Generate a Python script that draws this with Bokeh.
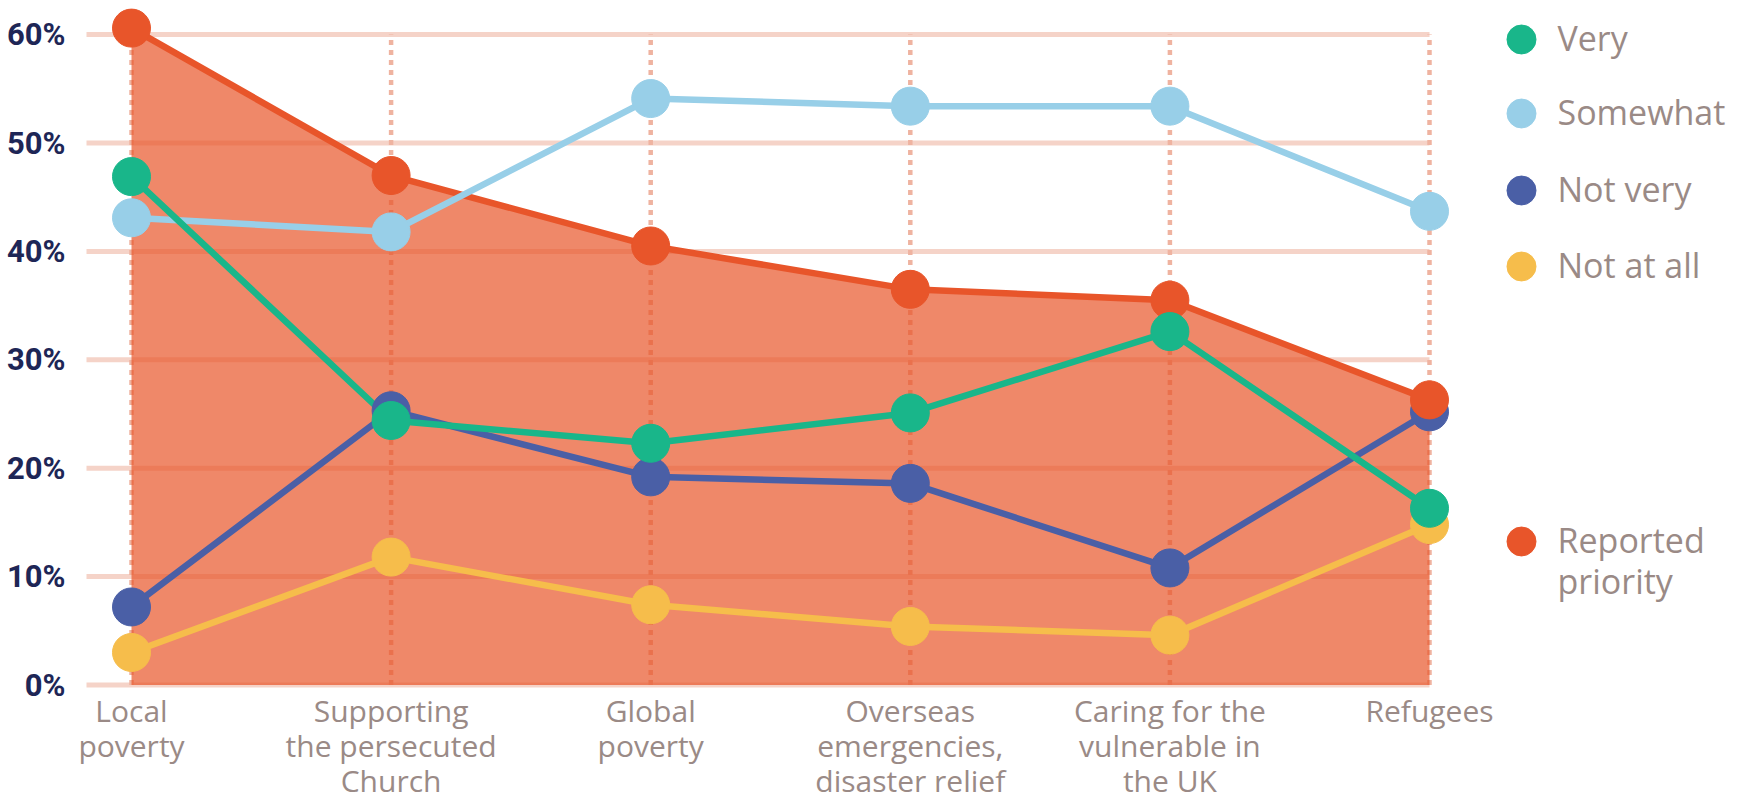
from bokeh.plotting import figure
from bokeh.models import Range1d, ColumnDataSource
from bokeh.core.properties import value
from bokeh.embed import file_html
from bokeh.resources import INLINE

# ---------------- data ----------------
categories = ["Local poverty", "Supporting the persecuted Church", "Global poverty",
              "Overseas emergencies, disaster relief", "Caring for the vulnerable in the UK",
              "Refugees"]
category_labels = ["Local\npoverty", "Supporting\nthe persecuted\nChurch", "Global\npoverty",
                   "Overseas\nemergencies,\ndisaster relief", "Caring for the\nvulnerable in\nthe UK",
                   "Refugees"]
very = [46.9, 24.4, 22.3, 25.1, 32.6, 16.3]
somewhat = [43.1, 41.8, 54.1, 53.4, 53.4, 43.7]
not_very = [7.2, 25.3, 19.2, 18.6, 10.8, 25.2]
not_at_all = [3.0, 11.8, 7.4, 5.4, 4.6, 14.8]
reported_priority = [60.6, 47.0, 40.5, 36.5, 35.5, 26.3]
series_names = ["Very", "Somewhat", "Not very", "Not at all"]
priority_name = "Reported\npriority"
y_ticks = [0, 10, 20, 30, 40, 50, 60]
y_tick_labels = ["0%", "10%", "20%", "30%", "40%", "50%", "60%"]

# ---------------- styling / layout ----------------
C_VERY = "#19b68a"
C_SOME = "#98cfe8"
C_NOTV = "#4a5fa6"
C_NOTA = "#f6bd4b"
C_PRIO = "#e8552a"
C_GRID = "#f5d3c8"
C_DOT = "#efb3a0"
C_TEXT = "#9a8a86"
C_YLAB = "#1e2656"
FONT = "Open Sans"
YFONT = "Roboto"

W, H = 1736, 800
X0_PX = 131.0     # first category (page px)
UX = 259.6        # px per category step
Y0_PX = 684.5     # 0% (page px)
UY = 10.84        # px per percent


def px_to_x(px):
    return (px - X0_PX) / UX


def py_to_y(py):
    return (Y0_PX - py) / UY


n = len(categories)
idx = list(range(n))

p = figure(width=W, height=H,
           x_range=Range1d(px_to_x(0), px_to_x(W)), y_range=Range1d(py_to_y(H), py_to_y(0)),
           output_backend="svg", toolbar_location=None,
           x_axis_location=None, y_axis_location=None,
           min_border_left=0, min_border_right=0, min_border_top=0, min_border_bottom=0)
p.outline_line_color = None
p.grid.visible = False

# y tick labels
p.text(x=[px_to_x(65)] * len(y_ticks), y=y_ticks, text=y_tick_labels,
       text_align="right", text_baseline="middle", text_font=value(YFONT),
       text_font_style="bold", text_font_size=value("31px"), text_color=C_YLAB)

# horizontal grid lines (end at last category)
p.segment(x0=[px_to_x(86)] * len(y_ticks), x1=[n - 1] * len(y_ticks), y0=y_ticks, y1=y_ticks,
          line_color=C_GRID, line_width=5)
# vertical dotted lines
p.segment(x0=idx, x1=idx, y0=[y_ticks[0]] * n, y1=[y_ticks[-1]] * n,
          line_color=C_DOT, line_width=4.5, line_dash="5 5")

# area
p.varea(x=idx, y1=[0] * n, y2=reported_priority, fill_color=C_PRIO, fill_alpha=0.7)

LW = 6.5
p.line(idx, reported_priority, line_color=C_PRIO, line_width=LW)
p.line(idx, not_at_all, line_color=C_NOTA, line_width=LW)
p.line(idx, not_very, line_color=C_NOTV, line_width=LW)
p.line(idx, somewhat, line_color=C_SOME, line_width=LW)
p.line(idx, very, line_color=C_VERY, line_width=LW)

MS = 38
p.scatter(idx, not_at_all, size=MS, color=C_NOTA)
p.scatter(idx, not_very, size=MS, color=C_NOTV)
p.scatter(idx, somewhat, size=MS, color=C_SOME)
p.scatter(idx, reported_priority, size=MS, color=C_PRIO)
p.scatter(idx, very, size=MS, color=C_VERY)

# category labels
p.text(x=idx, y=[py_to_y(689)] * n, text=category_labels, text_align="center",
       text_baseline="top", text_font=value(FONT), text_font_size=value("30px"),
       text_color=C_TEXT, text_line_height=0.86)

# legend
leg_y_px = [39, 113, 190, 266]
leg_src = ColumnDataSource(dict(
    x=[px_to_x(1521)] * 4,
    tx=[px_to_x(1557)] * 4,
    y=[py_to_y(v) for v in leg_y_px],
    ty=[py_to_y(v - 2) for v in leg_y_px],
    name=series_names,
    color=[C_VERY, C_SOME, C_NOTV, C_NOTA],
))
p.scatter("x", "y", source=leg_src, size=29, color="color")
p.text("tx", "ty", text="name", source=leg_src, text_baseline="middle", text_align="left",
       text_font=value(FONT), text_font_size=value("34px"), text_color=C_TEXT)
p.scatter(x=[px_to_x(1521)], y=[py_to_y(541)], size=29, color=C_PRIO)
p.text(x=[px_to_x(1557)], y=[py_to_y(516)], text=[priority_name], text_baseline="top",
       text_align="left", text_font=value(FONT), text_font_size=value("34px"),
       text_color=C_TEXT, text_line_height=0.91)

open("out.html", "w").write(file_html(p, INLINE))
